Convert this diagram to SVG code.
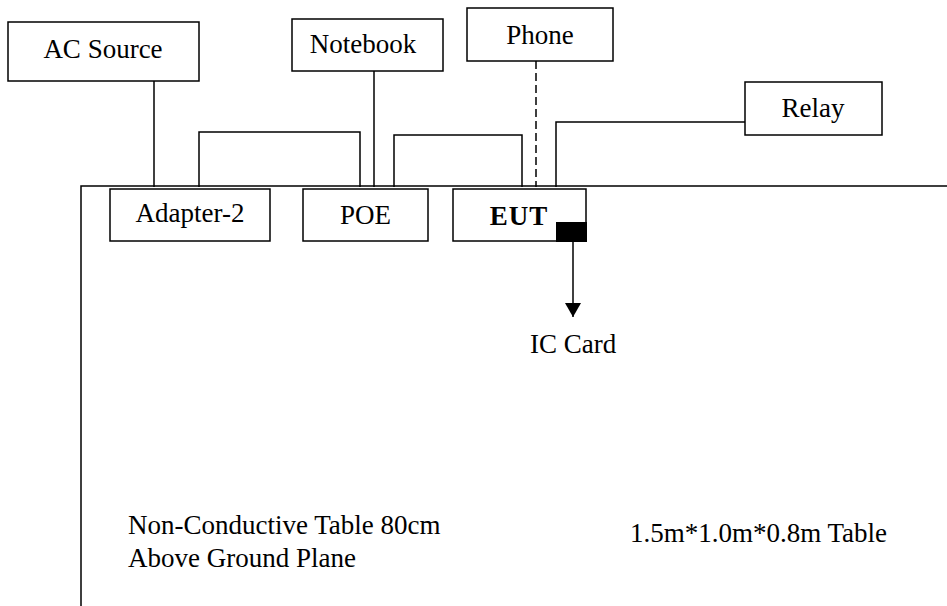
<svg xmlns="http://www.w3.org/2000/svg" width="947" height="606" viewBox="0 0 947 606">
<style>
.box{fill:#fff;stroke:#000;stroke-width:1.5}
.w{fill:none;stroke:#000;stroke-width:1.5}
text{font-family:"Liberation Serif","Times New Roman",serif;font-size:27px;fill:#000}
.c{text-anchor:middle}
</style>
<defs>
<marker id="arr" markerWidth="16" markerHeight="16" refX="14" refY="8" orient="auto" markerUnits="userSpaceOnUse" viewBox="0 0 16 16">
<path d="M0,0 L14,8 L0,16 Z" fill="#000"/>
</marker>
</defs>
<g id="table">
<path class="w" d="M81,606 V186 H947"/>
<text x="128" y="534">Non-Conductive Table 80cm</text>
<text x="128" y="567">Above Ground Plane</text>
<text x="630" y="542">1.5m*1.0m*0.8m Table</text>
</g>
<g id="connectors">
<path class="w" d="M154,81 V187"/>
<path class="w" d="M199,187 V132 H360 V187"/>
<path class="w" d="M374,71 V187"/>
<path class="w" d="M394,187 V135 H522 V187"/>
<path class="w" d="M536,61 V187" stroke-dasharray="8,4"/>
<path class="w" d="M556,187 V122 H745"/>
<path class="w" d="M573,242 V317" marker-end="url(#arr)"/>
</g>
<g id="ac-source"><rect class="box" x="8" y="22" width="191" height="59"/><text class="c" x="103" y="58">AC Source</text></g>
<g id="notebook"><rect class="box" x="292" y="19" width="151" height="52"/><text class="c" x="363" y="53">Notebook</text></g>
<g id="phone"><rect class="box" x="467" y="8" width="146" height="53"/><text class="c" x="540" y="44">Phone</text></g>
<g id="relay"><rect class="box" x="745" y="82" width="137" height="53"/><text class="c" x="813" y="117">Relay</text></g>
<g id="adapter-2"><rect class="box" x="110" y="189" width="160" height="52"/><text class="c" x="190" y="222">Adapter-2</text></g>
<g id="poe"><rect class="box" x="303" y="189" width="125" height="52"/><text class="c" x="365.5" y="224">POE</text></g>
<g id="eut"><rect class="box" x="453" y="189" width="133" height="52"/><text class="c" x="519" y="225" font-weight="bold" font-size="28" letter-spacing="1">EUT</text><rect x="556" y="222" width="31" height="20" fill="#000"/></g>
<g id="ic-card"><text x="530" y="353">IC Card</text></g>
</svg>
